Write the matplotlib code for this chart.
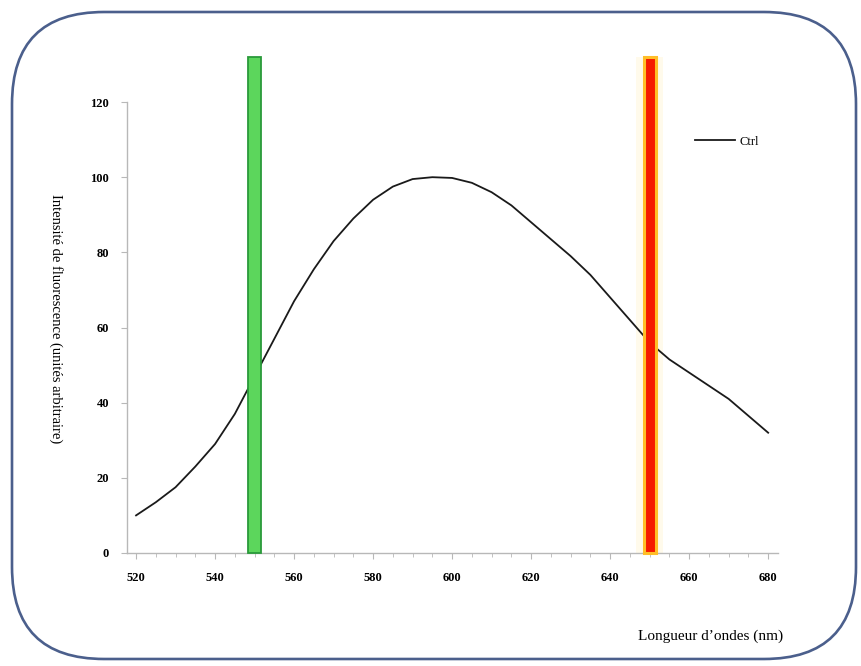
import numpy as np
import matplotlib.pyplot as plt
from matplotlib.patches import FancyBboxPatch
from matplotlib.transforms import IdentityTransform

plt.rcParams['font.family'] = ['Liberation Serif', 'DejaVu Serif']

# donnees
longueur = [520, 525, 530, 535, 540, 545, 550, 555, 560, 565, 570, 575, 580,
            585, 590, 595, 600, 605, 610, 615, 620, 625, 630, 635, 640, 645,
            650, 655, 660, 665, 670, 675, 680]
ctrl = [10, 13.5, 17.5, 23, 29, 37, 47, 57, 67, 75.5, 83, 89, 94,
        97.5, 99.5, 100, 99.8, 98.5, 96, 92.5, 88, 83.5, 79, 74, 68, 62,
        56, 51.5, 48, 44.5, 41, 36.5, 32]
bande_verte = 550
bande_rouge = 650
hauteur_bande = 132

fig = plt.figure(figsize=(8.62, 6.66), dpi=100)
ax = fig.add_axes([0.1473, 0.1697, 0.7553, 0.6771])

# cadre arrondi
cadre = FancyBboxPatch((12, 7), 844, 647, boxstyle="round,pad=0,rounding_size=92",
                       transform=IdentityTransform(), facecolor='white',
                       edgecolor='#4b5f8c', linewidth=1.9, zorder=-10)
fig.patches.append(cadre)

ax.plot(longueur, ctrl, color='#1a1a1a', linewidth=1.3, label='Ctrl', zorder=2)

# bandes de filtre
ax.bar(bande_verte, hauteur_bande, width=3.4, color='#5cd65c', edgecolor='#2a9a3a',
       linewidth=1.3, clip_on=False, zorder=3)
ax.bar(bande_rouge, hauteur_bande, width=7, color='#fffaeb', linewidth=0,
       clip_on=False, zorder=1)
ax.bar(bande_rouge, hauteur_bande, width=3.0, color='#f51a00', edgecolor='#ffbe28',
       linewidth=2.2, clip_on=False, zorder=3)

ax.set_xlim(517.7, 682.5)
ax.set_ylim(0, 120)
ax.set_xticks(np.arange(520, 681, 20))
ax.set_xticks(np.arange(520, 681, 5), minor=True)
ax.set_yticks(np.arange(0, 121, 20))

for s in ['top', 'right']:
    ax.spines[s].set_visible(False)
for s in ['left', 'bottom']:
    ax.spines[s].set_color('#b8b8b8')
    ax.spines[s].set_linewidth(1.0)
ax.tick_params(axis='both', which='major', length=4, color='#b8b8b8',
               labelsize=9, pad=9)
ax.tick_params(axis='x', which='minor', length=3, color='#b8b8b8')
ax.tick_params(axis='x', which='major', pad=10)
for lab in ax.get_xticklabels() + ax.get_yticklabels():
    lab.set_fontweight('bold')

ax.set_ylabel("Intensité de fluorescence (unités arbitraire)", fontsize=10.5,
              rotation=270)
ax.yaxis.set_label_coords(-0.12, 0.52)
fig.text(0.908, 0.045, "Longueur d\u2019ondes (nm)", fontsize=11, ha='right', va='center')

ax.legend(loc='upper left', bbox_to_anchor=(0.855, 0.95), frameon=False,
          fontsize=9, handlelength=3.2, handletextpad=0.4)

fig.savefig('out.png', dpi=100)
